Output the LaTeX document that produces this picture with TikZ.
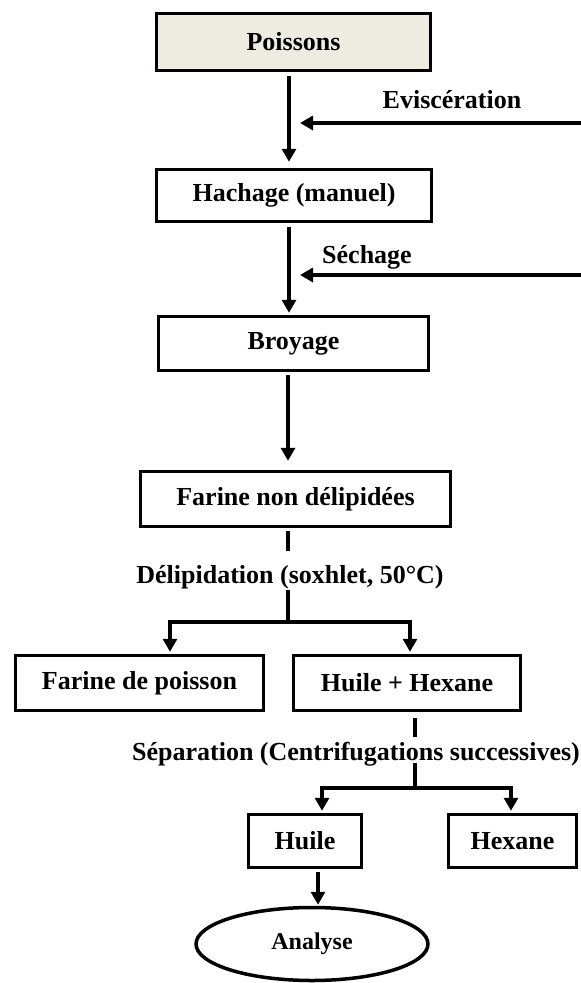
\documentclass[tikz,border=0pt]{standalone}
\usepackage{fontspec}
\setmainfont{Liberation Serif}
\usetikzlibrary{arrows.meta,shapes.geometric}

\definecolor{beige}{HTML}{EEEBE0}

\tikzset{
  box/.style={draw, line width=3.5pt, fill=white, inner sep=0pt,
    font=\bfseries\fontsize{26}{30}\selectfont},
  lab/.style={inner sep=0pt, font=\bfseries\fontsize{26}{30}\selectfont},
  line/.style={line width=3.5pt},
  arr/.style={line width=3.5pt, -{Triangle[width=14pt,length=13pt]}},
}

\begin{document}
\begin{tikzpicture}[x=1pt,y=-1pt]
  \useasboundingbox (0,0) rectangle (581,983);

  % Boxes
  \node[box, fill=beige, minimum width=274pt, minimum height=57pt] (poissons) at (293.5,42) {Poissons};
  \node[box, minimum width=275pt, minimum height=52pt] (hachage) at (294,195.5) {Hachage (manuel)};
  \node[box, minimum width=270pt, minimum height=54pt] (broyage) at (293.5,343.5) {Broyage};
  \node[box, minimum width=310pt, minimum height=55pt] (farine) at (295.5,499) {Farine non délipidées};
  \node[box, minimum width=248pt, minimum height=55pt] (poudre) at (139.5,683) {Farine de poisson};
  \node[box, minimum width=227pt, minimum height=55pt] (melange) at (407,683) {Huile + Hexane};
  \node[box, minimum width=113pt, minimum height=53pt] (huile) at (305,841) {Huile};
  \node[box, minimum width=128pt, minimum height=53pt] (hexane) at (512.5,841) {Hexane};
  \node[box, ellipse, minimum width=232pt, minimum height=73pt,
    font=\bfseries\fontsize{24}{28}\selectfont] (analyse) at (312,944) {Analyse};

  % Step labels
  \node[lab] (evisc) at (452,100) {Eviscération};
  \node[lab] (sechage) at (367,257) {Séchage};
  \node[lab, text height=28pt, text depth=3pt, inner ysep=4pt] (delip) at (290,570.5) {Délipidation (soxhlet, 50°C)};
  \node[lab, text height=21pt, text depth=1pt, inner ysep=2pt] (separ) at (356,750) {Séparation (Centrifugations successives)};

  % Helper coordinates
  \coordinate (colA) at (289,0);
  \coordinate (evR) at (581,123);
  \coordinate (evL) at (300,123);
  \coordinate (seR) at (581,275);
  \coordinate (seL) at (300,275);
  \coordinate (split1) at (288,622);
  \coordinate (split2) at (415,788);

  % Main chain
  \draw[arr, shorten <=4pt, shorten >=6pt] (poissons.south -| colA) -- (hachage.north -| colA);
  \draw[arr, shorten <=4pt, shorten >=2pt] (hachage.south -| colA) -- (broyage.north -| colA);
  \draw[arr, shorten <=3pt, shorten >=9pt] (broyage.south -| split1) -- (farine.north -| split1);
  \draw[arr] (evR) -- (evL);
  \draw[arr] (seR) -- (seL);

  % Delipidation
  \draw[line, shorten <=3pt] (farine.south -| split1) -- (delip.north -| split1);
  \draw[line] (delip.south -| split1) -- (split1);
  \draw[arr, shorten >=2pt] (split1) -| ([xshift=30.5pt]poudre.north);
  \draw[arr, shorten >=2pt] (split1) -| ([xshift=3pt]melange.north);

  % Separation
  \draw[line, shorten <=6pt] (melange.south -| split2) -- (separ.north -| split2);
  \draw[line] (separ.south -| split2) -- (split2);
  \draw[arr, shorten >=2pt] (split2) -| ([xshift=17pt]huile.north);
  \draw[arr, shorten >=2pt] (split2) -| ([xshift=-1.5pt]hexane.north);
  \draw[arr, shorten <=3pt, shorten >=1pt] ([xshift=13pt]huile.south) -- ([xshift=13pt]huile.south |- analyse.north);
\end{tikzpicture}
\end{document}
